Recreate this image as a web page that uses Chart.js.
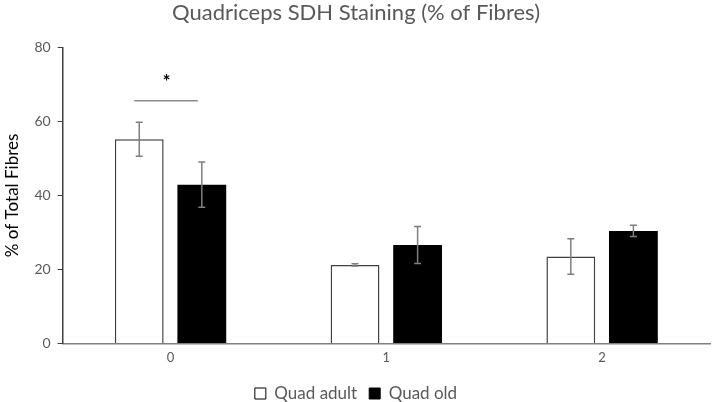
<!DOCTYPE html>
<html>
<head>
<meta charset="utf-8">
<script src="https://cdn.jsdelivr.net/npm/chart.js@4"></script>
<style>
  html, body { margin: 0; padding: 0; background: #fff; }
  #wrap { width: 725px; height: 402px; }
</style>
</head>
<body>
<div id="wrap"><canvas id="chart"></canvas></div>
<script>
const categories = ['0', '1', '2'];
const adultValues = [55.2, 21.2, 23.5];
const adultErrors = [4.6, 0.3, 4.8];
const oldValues = [42.9, 26.6, 30.4];
const oldErrors = [6.1, 5.0, 1.5];
const yTicks = [0, 20, 40, 60, 80];
const sigLineValue = 65.6;
const sigStarValue = 70.8;

const grey = '#595959';
const font = "Lato, 'Open Sans', sans-serif";

// error bars on top of every bar
const errorBars = {
  id: 'errorBars',
  afterDatasetsDraw(chart) {
    const ctx = chart.ctx;
    const y = chart.scales.y;
    ctx.save();
    ctx.strokeStyle = '#7f7f7f';
    ctx.lineWidth = 1.5;
    chart.data.datasets.forEach((ds, i) => {
      chart.getDatasetMeta(i).data.forEach((bar, j) => {
        const v = ds.data[j], e = ds.errors[j];
        const top = y.getPixelForValue(v + e);
        const bot = y.getPixelForValue(v - e);
        ctx.beginPath();
        ctx.moveTo(bar.x, top); ctx.lineTo(bar.x, bot);
        ctx.moveTo(bar.x - 3.5, top); ctx.lineTo(bar.x + 3.5, top);
        ctx.moveTo(bar.x - 3.5, bot); ctx.lineTo(bar.x + 3.5, bot);
        ctx.stroke();
      });
    });
    // significance marker over category 0
    const a = chart.getDatasetMeta(0).data[0];
    const b = chart.getDatasetMeta(1).data[0];
    const ly = y.getPixelForValue(sigLineValue);
    ctx.strokeStyle = '#8c8c8c';
    ctx.beginPath();
    ctx.moveTo(a.x - 5, ly); ctx.lineTo(b.x - 4, ly);
    ctx.stroke();
    ctx.fillStyle = '#000';
    ctx.font = 'bold 19px ' + font;
    ctx.textAlign = 'center';
    ctx.textBaseline = 'middle';
    ctx.fillText('*', (a.x + b.x) / 2 - 4, y.getPixelForValue(sigStarValue));
    ctx.restore();
  }
};

new Chart(document.getElementById('chart'), {
  type: 'bar',
  data: {
    labels: categories,
    datasets: [
      {
        label: 'Quad adult',
        data: adultValues,
        errors: adultErrors,
        backgroundColor: '#ffffff',
        borderColor: '#404040',
        borderWidth: 1.5
      },
      {
        label: 'Quad old',
        data: oldValues,
        errors: oldErrors,
        backgroundColor: '#000000',
        borderColor: '#000000',
        borderWidth: 0
      }
    ]
  },
  options: {
    responsive: true,
    maintainAspectRatio: false,
    animation: false,
    categoryPercentage: 0.58,
    barPercentage: 0.78,
    layout: { padding: { left: 2, right: 15, top: 0, bottom: -10 } },
    plugins: {
      title: {
        display: true,
        text: 'Quadriceps SDH Staining (% of Fibres)',
        color: grey,
        font: { family: font, size: 22, weight: 'normal' },
        padding: { top: 0, bottom: 21 }
      },
      legend: {
        position: 'bottom',
        labels: {
          color: grey,
          boxWidth: 11,
          boxHeight: 11,
          font: { family: font, size: 17 },
          padding: 12,
          generateLabels(chart) {
            return chart.data.datasets.map((ds, i) => ({
              text: ds.label,
              fillStyle: ds.backgroundColor,
              strokeStyle: '#000',
              lineWidth: 1,
              fontColor: grey,
              datasetIndex: i
            }));
          }
        }
      },
      tooltip: { enabled: false }
    },
    scales: {
      x: {
        grid: { display: false, drawTicks: false, tickLength: 0 },
        border: { display: true, color: '#808080', width: 1.5 },
        ticks: { color: grey, font: { family: font, size: 13 }, padding: 7 }
      },
      y: {
        min: yTicks[0],
        max: yTicks[yTicks.length - 1],
        afterBuildTicks(scale) { scale.ticks = yTicks.map(v => ({ value: v })); },
        grid: { drawOnChartArea: false, color: '#404040', tickLength: 5 },
        border: { display: true, color: '#404040', width: 1.5 },
        ticks: { color: grey, font: { family: font, size: 14 }, padding: 7 },
        title: {
          display: true,
          text: '% of Total Fibres',
          color: '#000',
          font: { family: font, size: 17 },
          padding: { top: 0, bottom: 5 }
        }
      }
    }
  },
  plugins: [errorBars]
});
</script>
</body>
</html>
